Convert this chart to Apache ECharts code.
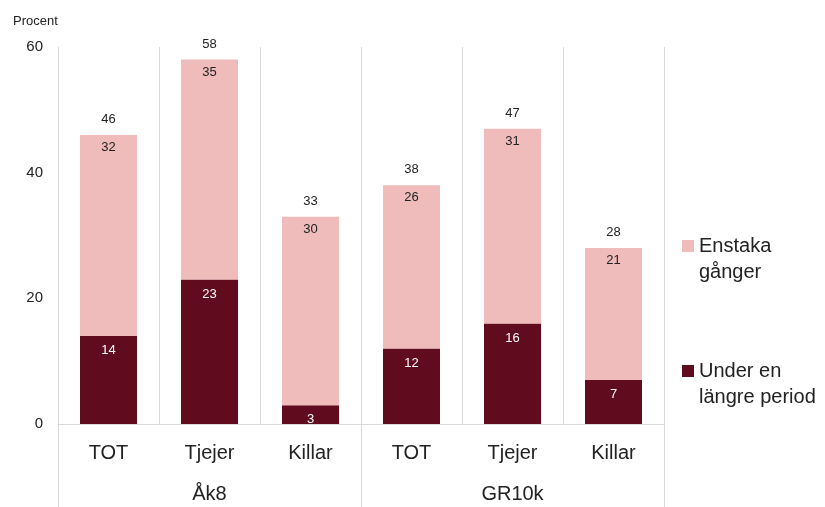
<!DOCTYPE html>
<html>
<head>
<meta charset="utf-8">
<script src="https://cdn.jsdelivr.net/npm/echarts@6/dist/echarts.min.js"></script>
<style>
  html, body { margin: 0; padding: 0; background: #fff; }
  #chart { width: 825px; height: 507px; }
</style>
</head>
<body>
<div id="chart"></div>
<script>
// kategorier och grupper
var categories = ["TOT", "Tjejer", "Killar", "TOT", "Tjejer", "Killar"];
var groups = ["Åk8", "GR10k"];
// värden (procent)
var underPeriod = [14, 23, 3, 12, 16, 7];
var enstaka = [32, 35, 30, 26, 31, 21];
var totals = [46, 58, 33, 38, 47, 28];
var topPad = [0, 0, 0, 0, 0, 0];

var font = "Liberation Sans";
var gray = "#d9d9d9";

var chart = echarts.init(document.getElementById("chart"));
var option = {
  animation: false,
  textStyle: { fontFamily: font },
  title: {
    text: "Procent",
    left: 8,
    top: 10,
    textStyle: { fontSize: 13, fontWeight: "normal", color: "#222", fontFamily: font },
  },
  grid: { left: 58, right: 161, top: 47, bottom: 83 },
  legend: {
    data: ["Enstaka\ngånger", "Under en\nlängre period"],
    orient: "vertical",
    left: 677,
    top: 202,
    itemWidth: 12,
    itemHeight: 12,
    itemGap: 47,
    icon: "rect",
    // tom första rad så att ikonen hamnar vid första textraden
    formatter: function (name) { return " \n" + name; },
    textStyle: { fontSize: 20, color: "#222", lineHeight: 26, fontFamily: font },
  },
  xAxis: [
    {
      type: "category",
      data: categories,
      position: "bottom",
      axisLine: { show: true, lineStyle: { color: gray } },
      axisTick: { show: false },
      splitLine: { show: true, interval: 0, lineStyle: { color: gray } },
      axisLabel: { fontSize: 20, color: "#222", margin: 19, interval: 0 },
    },
    {
      type: "category",
      data: groups,
      position: "bottom",
      axisLine: { show: false },
      axisTick: { show: true, length: 83, lineStyle: { color: gray } },
      axisLabel: { fontSize: 20, color: "#222", margin: 60 },
    },
  ],
  yAxis: {
    type: "value",
    min: 0,
    max: 60,
    interval: 20,
    axisLine: { show: true, lineStyle: { color: gray } },
    axisTick: { show: false },
    splitLine: { show: false },
    axisLabel: { fontSize: 15, color: "#222", margin: 15 },
  },
  series: [
    {
      name: "Under en\nlängre period",
      type: "bar",
      stack: "a",
      barWidth: 57,
      data: underPeriod,
      itemStyle: { color: "#600b1e" },
      label: { show: true, position: "insideTop", distance: 8, color: "#fff", fontSize: 13 },
    },
    {
      name: "Enstaka\ngånger",
      type: "bar",
      stack: "a",
      barWidth: 57,
      data: enstaka,
      itemStyle: { color: "#efbbbb" },
      label: { show: true, position: "insideTop", distance: 6, color: "#222", fontSize: 13 },
    },
    {
      name: "Totalt",
      type: "bar",
      stack: "a",
      barWidth: 57,
      data: topPad,
      silent: true,
      itemStyle: { color: "transparent" },
      label: {
        show: true,
        position: "top",
        distance: 9,
        color: "#222",
        fontSize: 13,
        formatter: function (p) { return totals[p.dataIndex]; },
      },
    },
  ],
};
chart.setOption(option);
</script>
</body>
</html>
